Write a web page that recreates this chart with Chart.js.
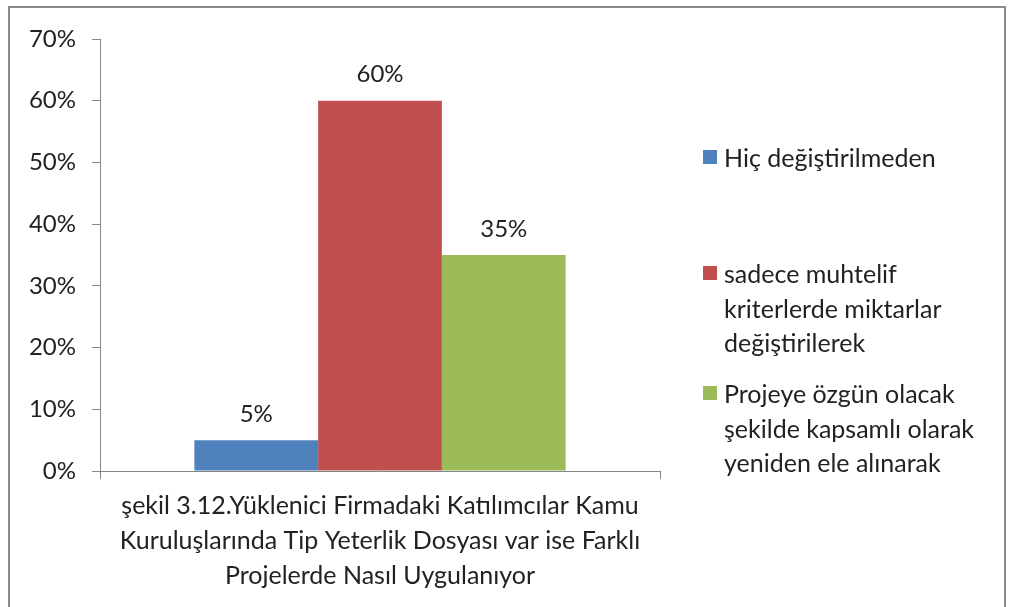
<!DOCTYPE html>
<html>
<head>
<meta charset="utf-8">
<script src="https://cdn.jsdelivr.net/npm/chart.js@4/dist/chart.umd.min.js"></script>
<style>
  body { margin: 0; background: #fff; font-family: Lato, sans-serif; }
  #wrap { position: relative; width: 1011px; height: 607px; overflow: hidden; }
  #frame { position: absolute; left: 8px; top: 6px; width: 994px; height: 640px; border: 2px solid #8a8a8a; }
  #chart { position: absolute; left: 0; top: 0; }
  #legend { position: absolute; left: 703px; top: 0; color: #222; font-size: 25px; line-height: 34.5px; }
  .item { position: absolute; left: 0; white-space: nowrap; }
  .sw { position: absolute; left: 0; width: 14px; height: 14px; }
  .txt { position: absolute; left: 21px; }
</style>
</head>
<body>
<div id="wrap">
  <div id="frame"></div>
  <canvas id="chart" width="1011" height="607"></canvas>
  <div id="legend"></div>
</div>
<script>
const categories = [['şekil 3.12.Yüklenici Firmadaki Katılımcılar Kamu', 'Kuruluşlarında Tip Yeterlik Dosyası var ise Farklı', 'Projelerde Nasıl Uygulanıyor']];
const seriesNames = ['Hiç değiştirilmeden', 'sadece muhtelif kriterlerde miktarlar değiştirilerek', 'Projeye özgün olacak şekilde kapsamlı olarak yeniden ele alınarak'];
const legendLines = [
  ['Hiç değiştirilmeden'],
  ['sadece muhtelif', 'kriterlerde miktarlar', 'değiştirilerek'],
  ['Projeye özgün olacak', 'şekilde kapsamlı olarak', 'yeniden ele alınarak']
];
const values = [5, 60, 35];
const colors = ['#4F81BD', '#C0504D', '#9BBB59'];
const yTicks = [0, 10, 20, 30, 40, 50, 60, 70];

const font = 'Lato, sans-serif';

const barLabels = {
  id: 'barLabels',
  afterDatasetsDraw(chart) {
    const ctx = chart.ctx;
    ctx.save();
    ctx.font = '24px ' + font;
    ctx.fillStyle = '#222';
    ctx.textAlign = 'center';
    ctx.textBaseline = 'middle';
    chart.data.datasets.forEach((ds, i) => {
      const bar = chart.getDatasetMeta(i).data[0];
      ctx.fillText(ds.data[0] + '%', bar.x, bar.y - 26);
    });
    ctx.restore();
  }
};

new Chart(document.getElementById('chart'), {
  type: 'bar',
  data: {
    labels: categories,
    datasets: values.map((v, i) => ({
      label: seriesNames[i],
      data: [v],
      backgroundColor: colors[i],
      borderWidth: 0
    }))
  },
  options: {
    responsive: false,
    animation: false,
    categoryPercentage: 0.663,
    barPercentage: 1,
    layout: { padding: { left: 0, right: 351, top: 39, bottom: 0 } },
    plugins: { legend: { display: false }, tooltip: { enabled: false } },
    scales: {
      x: {
        grid: { drawOnChartArea: false, drawTicks: true, tickLength: 8, color: '#868686' },
        border: { display: true, color: '#868686', width: 1 },
        ticks: { color: '#222', font: { family: font, size: 25, lineHeight: 1.4 }, padding: 9, maxRotation: 0, autoSkip: false },
        afterFit(scale) { scale.height = 136; }
      },
      y: {
        min: 0,
        max: 70,
        afterBuildTicks(scale) { scale.ticks = yTicks.map(v => ({ value: v })); },
        grid: { drawOnChartArea: false, drawTicks: true, tickLength: 8, color: '#868686' },
        border: { display: true, color: '#868686', width: 1 },
        ticks: { color: '#222', font: { family: font, size: 24 }, padding: 16, callback: v => v + '%' },
        afterFit(scale) { scale.width = 100; }
      }
    }
  },
  plugins: [barLabels]
});

// legend as html text, positioned beside the plot
const legendTops = [157, 273, 393];
const legend = document.getElementById('legend');
legendLines.forEach((lines, i) => {
  const item = document.createElement('div');
  item.className = 'item';
  item.style.top = (legendTops[i] - 17) + 'px';
  const sw = document.createElement('div');
  sw.className = 'sw';
  sw.style.background = colors[i];
  sw.style.top = '10px';
  item.appendChild(sw);
  const txt = document.createElement('div');
  txt.className = 'txt';
  txt.innerHTML = lines.join('<br>');
  item.appendChild(txt);
  legend.appendChild(item);
});
</script>
</body>
</html>
